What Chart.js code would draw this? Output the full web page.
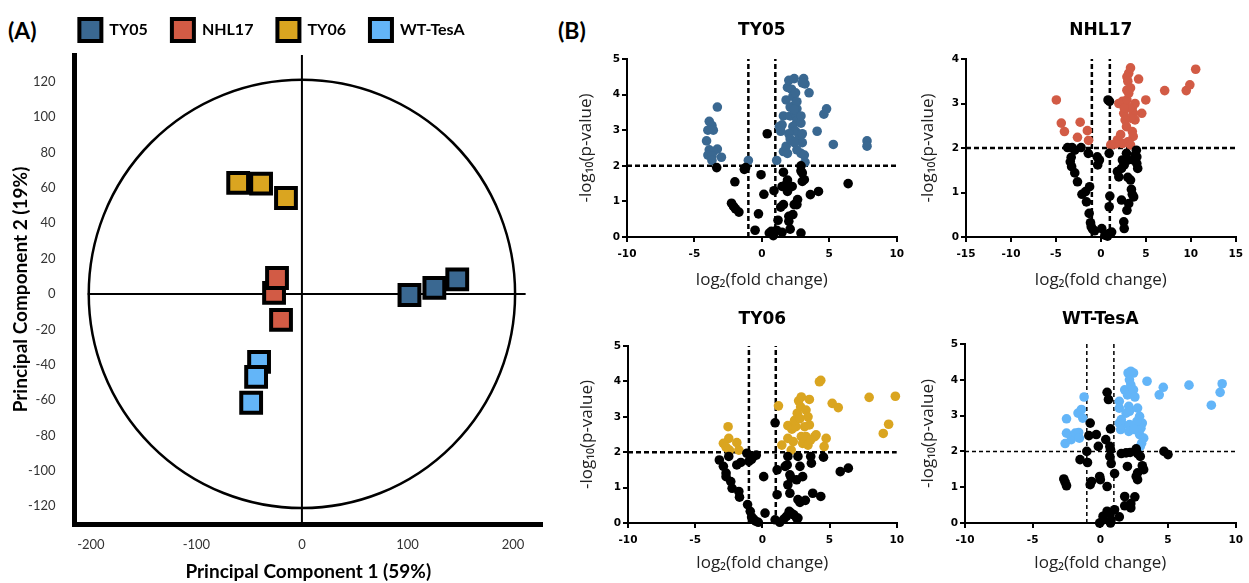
<!DOCTYPE html>
<html lang="en">
<head>
<meta charset="UTF-8">
<title>PCA and volcano plots</title>
<style>
  body { margin: 0; background: #fff; width: 1249px; height: 583px; position: relative; overflow: hidden; }
  .panel { position: absolute; }
  .tag { position: absolute; font: bold 23px Lato, sans-serif; line-height: 24px; color: #000; }
</style>
</head>
<body>
<div class="tag" style="left:8px; top:18px">(A)</div>
<div class="tag" style="left:558px; top:18px">(B)</div>

<div class="panel" style="left:0; top:0; width:560px; height:583px"><canvas id="pca"></canvas></div>
<div class="panel" style="left:560px; top:0; width:350px; height:300px"><canvas id="volTY05"></canvas></div>
<div class="panel" style="left:910px; top:0; width:339px; height:300px"><canvas id="volNHL17"></canvas></div>
<div class="panel" style="left:560px; top:300px; width:350px; height:283px"><canvas id="volTY06"></canvas></div>
<div class="panel" style="left:910px; top:300px; width:339px; height:283px"><canvas id="volWT"></canvas></div>

<script src="https://cdn.jsdelivr.net/npm/chart.js"></script>
<script>
// strains and colours
const strains = ['TY05', 'NHL17', 'TY06', 'WT-TesA'];
const strainColors = ['#3A6891', '#D25B45', '#DAA520', '#63B5F8'];

// PCA scores [PC1, PC2], three replicates per strain
const pcaTY05 = [[101.9, -0.6], [125.5, 3.4], [147.2, 8.2]];
const pcaNHL17 = [[-26.4, 0.6], [-23.6, 9.0], [-19.8, -14.7]];
const pcaTY06 = [[-60.4, 62.7], [-38.7, 62.3], [-15.1, 54.2]];
const pcaWT = [[-40.6, -38.4], [-43.4, -46.9], [-48.1, -61.5]];
const pcaXTicks = [-200, -100, 0, 100, 200];
const pcaYTicks = [-120, -100, -80, -60, -40, -20, 0, 20, 40, 60, 80, 100, 120];
const circleR = [202, 121];
const zeroLineX = [-203, 212];

// volcano plots: [log2 fold change, -log10 p]
const fcCutoff = 1;
const pCutoff = 2;

const ty05Sig = [[-3.3, 3.65], [-3.9, 3.25], [-3.7, 3.13], [-4.0, 3.0], [-3.6, 3.0], [-4.1, 2.7], [-3.3, 2.47],
  [-3.9, 2.45], [-3.6, 2.4], [-4.0, 2.3], [-3.7, 2.27], [-3.0, 2.24], [-3.7, 2.15], [-1.0, 2.15],
  [1.1, 2.15], [1.3, 3.1], [1.5, 3.15], [1.6, 2.4], [1.8, 2.55], [1.6, 3.4], [1.8, 3.85], [1.9, 4.2],
  [2.0, 4.4], [2.4, 4.45], [2.2, 4.15], [2.3, 3.95], [2.5, 4.05], [2.1, 3.65], [2.4, 3.7], [2.6, 3.6],
  [2.1, 3.4], [2.5, 3.45], [2.6, 3.25], [2.3, 3.1], [2.5, 2.97], [2.0, 2.9], [2.1, 2.75], [2.7, 2.75],
  [2.9, 3.2], [3.0, 2.65], [2.9, 2.35], [2.6, 2.45], [3.1, 4.45], [3.2, 4.3], [3.0, 4.33], [3.5, 4.05],
  [3.2, 2.1], [3.15, 2.3], [3.0, 2.9], [2.4, 2.65], [1.9, 2.35], [4.1, 2.97], [4.6, 3.45], [4.8, 3.6],
  [5.3, 2.6], [7.8, 2.7], [7.8, 2.55], [1.4, 2.97], [2.6, 3.8], [2.4, 3.58], [2.9, 3.4]];
const ty05Ns = [[-3.35, 1.95], [-1.3, 1.9], [-1.2, 1.95], [0.4, 2.9], [-0.06, 1.75], [-2.0, 1.55], [-2.25, 0.95],
  [-2.1, 0.86], [-1.95, 0.79], [-1.7, 0.7], [-0.25, 0.65], [-0.5, 0.19], [0.15, 1.2], [0.9, 1.3],
  [0.55, 0.11], [0.7, 0.16], [0.85, 0.04], [1.1, 0.19], [1.5, 0.13], [1.2, 0.47], [1.4, 0.84], [1.6, 0.91],
  [1.5, 1.42], [1.8, 1.47], [1.9, 1.28], [1.6, 1.82], [2.0, 0.58], [2.0, 0.44], [2.1, 0.22], [2.3, 0.63],
  [2.4, 0.91], [2.65, 1.05], [2.6, 0.91], [2.25, 1.42], [2.9, 2.0], [2.9, 1.86], [3.0, 1.56], [3.15, 1.61],
  [2.9, 0.11], [3.6, 1.19], [4.2, 1.28], [6.4, 1.5], [3.0, 1.8], [1.9, 1.6]];

const nhl17Sig = [[-4.95, 3.08], [-4.4, 2.56], [-4.05, 2.37], [-2.3, 2.58], [-2.6, 2.24], [-1.5, 2.39], [-1.37, 2.17],
  [1.84, 2.18], [2.2, 2.3], [2.0, 3.0], [2.4, 3.05], [2.55, 2.78], [2.9, 3.08], [3.1, 3.68], [2.9, 3.6],
  [3.3, 3.8], [3.0, 3.5], [3.3, 3.35], [3.1, 3.23], [3.5, 2.9], [3.65, 2.78], [3.8, 2.63], [3.3, 2.67],
  [2.85, 2.48], [3.5, 2.37], [3.6, 2.26], [3.0, 2.14], [2.4, 2.1], [1.6, 2.09], [1.1, 2.07], [3.3, 2.07],
  [4.2, 3.55], [4.55, 2.78], [5.0, 3.08], [7.1, 3.29], [9.5, 3.29], [9.9, 3.42], [10.55, 3.77], [2.7, 2.63],
  [3.8, 3.0], [2.9, 3.3], [3.2, 2.9], [2.6, 2.9]];
const nhl17Ns = [[0.8, 3.08], [0.96, 3.05], [-3.7, 2.01], [-3.2, 2.01], [-2.2, 2.01], [-2.9, 1.95], [-3.3, 1.79],
  [-3.4, 1.69], [-3.25, 1.58], [-2.9, 1.44], [-2.6, 1.24], [-2.1, 0.96], [-1.7, 1.02], [-1.25, 1.13],
  [-1.6, 0.79], [-1.3, 0.53], [-1.15, 0.32], [-1.07, 0.23], [-0.9, 0.17], [-0.7, 0.14], [0.1, 0.19],
  [0.45, 0.04], [0.75, 0.02], [0.9, 0.08], [1.2, 0.11], [0.93, 0.68], [1.0, 0.92], [0.93, 1.88], [-1.4, 1.88],
  [-0.4, 1.8], [-0.35, 1.62], [-0.16, 1.73], [1.84, 1.47], [2.0, 1.35], [2.3, 1.54], [2.6, 1.62], [2.4, 1.73],
  [2.85, 1.88], [2.3, 0.83], [2.55, 0.34], [2.6, 0.19], [2.9, 0.6], [3.1, 0.75], [3.3, 1.28], [3.4, 1.07],
  [3.5, 0.96], [3.65, 0.9], [3.65, 1.73], [3.8, 1.84], [3.95, 1.95], [4.0, 1.8], [4.1, 1.54], [4.0, 1.65],
  [3.0, 1.73], [3.0, 1.34]];

const ty06Sig = [[-2.55, 2.72], [-2.5, 2.39], [-2.9, 2.25], [-2.7, 2.14], [-2.45, 2.06], [-1.9, 2.27], [-1.75, 2.06],
  [1.2, 3.31], [1.45, 2.2], [1.9, 2.75], [2.2, 2.65], [1.9, 2.39], [2.3, 2.3], [2.15, 2.06], [2.5, 2.72],
  [2.4, 2.9], [2.6, 3.1], [2.7, 3.45], [2.85, 3.28], [2.8, 2.95], [2.9, 2.44], [3.0, 2.25], [3.15, 2.72],
  [3.25, 3.19], [3.4, 3.0], [3.5, 3.49], [3.5, 2.77], [3.25, 2.44], [3.4, 2.2], [3.9, 2.44], [4.0, 2.49],
  [4.25, 3.99], [4.35, 4.03], [4.75, 2.39], [4.6, 2.16], [5.2, 3.38], [5.65, 3.26], [7.95, 3.55], [9.9, 3.58],
  [9.4, 2.79], [9.0, 2.53], [2.9, 3.56], [3.6, 2.35]];
const ty06Ns = [[0.95, 2.83], [-3.2, 1.78], [-2.9, 1.6], [-2.7, 1.41], [-2.7, 1.31], [-2.35, 1.17], [-2.25, 0.98],
  [-2.5, 1.88], [-1.9, 1.64], [-1.6, 1.71], [-1.75, 0.89], [-1.7, 0.73], [-1.15, 1.97], [-1.0, 1.74],
  [-0.8, 1.8], [-0.65, 1.88], [-0.45, 1.92], [-1.1, 0.52], [-0.9, 0.33], [-0.8, 0.17], [-0.65, 0.11],
  [-0.5, 0.05], [-0.3, 0.02], [0.2, 0.28], [0.1, 1.31], [0.95, 0.09], [1.1, 0.8], [1.1, 1.5], [1.3, 0.02],
  [1.6, 0.11], [1.8, 0.19], [2.0, 0.33], [2.15, 0.28], [2.35, 0.23], [2.55, 0.14], [2.65, 0.14], [1.9, 1.88],
  [1.85, 1.64], [1.7, 1.6], [2.05, 1.36], [2.15, 1.27], [1.9, 1.08], [2.05, 0.84], [2.55, 1.22], [2.8, 1.6],
  [3.0, 1.31], [2.65, 0.66], [2.8, 0.58], [3.2, 0.64], [3.6, 1.88], [3.65, 1.69], [3.75, 0.84], [4.35, 0.75],
  [4.55, 1.86], [5.8, 1.45], [6.4, 1.55], [2.65, 1.88]];

const wtSig = [[-2.5, 2.91], [-2.5, 2.51], [-2.6, 2.22], [-2.15, 2.33], [-1.85, 2.51], [-1.6, 2.53], [-1.55, 2.37],
  [-1.65, 3.07], [-1.4, 3.17], [-1.3, 2.93], [-1.2, 3.52], [1.4, 3.4], [1.4, 3.21], [1.55, 2.89], [1.4, 2.79],
  [1.65, 2.75], [1.5, 2.61], [1.8, 3.72], [2.0, 3.58], [2.1, 3.26], [2.15, 3.12], [1.9, 3.07], [2.05, 4.19],
  [2.45, 4.19], [2.15, 4.0], [2.25, 3.86], [2.45, 3.72], [2.55, 3.52], [2.15, 2.75], [2.1, 2.56], [2.75, 3.21],
  [2.9, 2.98], [3.1, 2.79], [3.0, 2.65], [2.9, 2.47], [3.2, 2.37], [3.05, 2.23], [2.95, 2.14], [2.25, 4.24],
  [3.45, 3.96], [4.65, 3.79], [4.35, 3.58], [6.55, 3.85], [8.2, 3.29], [8.85, 3.65], [9.0, 3.89], [2.7, 2.84],
  [2.5, 2.61]];
const wtNs = [[0.5, 3.65], [0.6, 3.45], [-0.75, 2.79], [-0.85, 2.44], [-0.3, 2.47], [-0.15, 2.14], [0.4, 2.33],
  [0.75, 2.63], [0.7, 2.14], [0.75, 2.05], [0.7, 1.86], [-1.0, 2.0], [-1.5, 1.77], [-0.95, 1.69], [0.8, 1.66],
  [1.05, 1.38], [1.55, 1.94], [1.9, 1.96], [2.2, 1.97], [2.65, 2.07], [2.75, 1.94], [2.95, 1.86], [2.0, 1.58],
  [3.1, 1.6], [3.2, 1.49], [2.75, 1.4], [2.65, 1.3], [2.75, 1.21], [4.7, 2.0], [5.0, 1.91], [-2.7, 1.23],
  [-2.6, 1.14], [-2.5, 1.04], [-0.65, 1.16], [-0.75, 1.07], [-0.05, 1.3], [0.0, 1.21], [0.5, 1.02], [1.8, 0.74],
  [1.8, 0.48], [2.25, 0.54], [2.55, 0.73], [2.25, 0.42], [0.2, 0.19], [-0.05, 0.0], [0.2, 0.09], [0.5, 0.33],
  [0.7, 0.26], [0.8, 0.09], [1.05, 0.37], [1.4, 0.17], [0.75, 0.0]];

const xTicks10 = [-10, -5, 0, 5, 10];
const xTicks15 = [-15, -10, -5, 0, 5, 10, 15];
const yTicks5 = [0, 1, 2, 3, 4, 5];
const yTicks4 = [0, 1, 2, 3, 4];

const toPoints = arr => arr.map(([x, y]) => ({ x, y }));
const fixedTicks = values => scale => { scale.ticks = values.map(v => ({ value: v })); };

// zero axes and the unit circle behind the PCA scores
const pcaGuides = {
  id: 'pcaGuides',
  beforeDatasetsDraw(chart) {
    const { ctx, chartArea: a, scales: { x, y } } = chart;
    const cx = x.getPixelForValue(0);
    const cy = y.getPixelForValue(0);
    ctx.save();
    ctx.strokeStyle = '#000';
    ctx.lineWidth = 2;
    ctx.beginPath();
    ctx.moveTo(cx, a.top);
    ctx.lineTo(cx, a.bottom);
    ctx.moveTo(x.getPixelForValue(zeroLineX[0]), cy);
    ctx.lineTo(x.getPixelForValue(zeroLineX[1]), cy);
    ctx.stroke();
    ctx.lineWidth = 2.5;
    ctx.beginPath();
    ctx.ellipse(cx, cy, x.getPixelForValue(circleR[0]) - cx, cy - y.getPixelForValue(circleR[1]), 0, 0, Math.PI * 2);
    ctx.stroke();
    ctx.restore();
  }
};

// pull the legend up into the header row
const legendRow = {
  id: 'legendRow',
  afterLayout(chart) {
    const lg = chart.legend;
    lg.top = 19 - lg.options.labels.padding;
  }
};

const pcaSets = [pcaTY05, pcaNHL17, pcaTY06, pcaWT];

new Chart(document.getElementById('pca'), {
  type: 'scatter',
  data: {
    datasets: strains.map((name, i) => ({
      label: name,
      data: toPoints(pcaSets[i]),
      backgroundColor: strainColors[i],
      borderColor: '#000',
      borderWidth: 4,
      pointStyle: 'rect',
      pointRadius: 14,
      clip: false
    }))
  },
  options: {
    responsive: true,
    maintainAspectRatio: false,
    animation: false,
    events: [],
    layout: { padding: { left: 0, right: 16, top: 0, bottom: 0 } },
    plugins: {
      tooltip: { enabled: false },
      legend: {
        position: 'top',
        maxHeight: 55,
        labels: {
          boxWidth: 22,
          boxHeight: 22,
          padding: 24,
          color: '#000',
          font: { family: 'Lato', weight: 'bold', size: 16 }
        }
      }
    },
    scales: {
      x: {
        type: 'linear',
        min: -215.5,
        max: 227.5,
        afterBuildTicks: fixedTicks(pcaXTicks),
        afterFit: s => { s.height = 59; },
        grid: { display: false, drawTicks: false },
        border: { color: '#000', width: 5 },
        ticks: { color: '#333', padding: 13, font: { family: 'Lato', size: 13 } },
        title: {
          display: true,
          text: 'Principal Component 1 (59%)',
          color: '#000',
          font: { family: 'Lato', weight: 'bold', size: 19 },
          padding: { top: 0, bottom: 0 }
        }
      },
      y: {
        type: 'linear',
        min: -130,
        max: 135,
        afterBuildTicks: fixedTicks(pcaYTicks),
        afterFit: s => { s.width = 74.5; },
        grid: { display: false, drawTicks: false },
        border: { color: '#000', width: 5 },
        ticks: { color: '#333', padding: 19, font: { family: 'Lato', size: 13 } },
        title: {
          display: true,
          text: 'Principal Component 2 (19%)',
          color: '#000',
          font: { family: 'Lato', weight: 'bold', size: 19 },
          padding: { top: 9, bottom: 0 }
        }
      }
    }
  },
  plugins: [pcaGuides, legendRow]
});

// dashed significance thresholds
const cutoffLines = {
  id: 'cutoffs',
  defaults: { width: 2.5, dash: [5, 3] },
  beforeDatasetsDraw(chart, args, opts) {
    const { ctx, chartArea: a, scales: { x, y } } = chart;
    ctx.save();
    ctx.strokeStyle = '#000';
    ctx.lineWidth = opts.width;
    ctx.setLineDash(opts.dash);
    ctx.beginPath();
    const yp = y.getPixelForValue(pCutoff);
    ctx.moveTo(a.left, yp);
    ctx.lineTo(a.right, yp);
    [-fcCutoff, fcCutoff].forEach(v => {
      const xp = x.getPixelForValue(v);
      ctx.moveTo(xp, a.bottom);
      ctx.lineTo(xp, a.top);
    });
    ctx.stroke();
    ctx.restore();
  }
};

const tickFont = { family: 'DejaVu Sans', weight: 'bold', size: 10.5 };
const axisFont = { family: "'Open Sans', 'DejaVu Sans'", size: 17 };

function volcano(id, name, color, sig, ns, xTicks, yTicks, box) {
  return new Chart(document.getElementById(id), {
    type: 'scatter',
    data: {
      datasets: [
        { data: toPoints(ns), backgroundColor: '#000', borderWidth: 0, pointRadius: 4.8, clip: false },
        { data: toPoints(sig), backgroundColor: color, borderWidth: 0, pointRadius: 4.8, clip: false }
      ]
    },
    options: {
      responsive: true,
      maintainAspectRatio: false,
      animation: false,
      events: [],
      layout: { padding: { left: 0, right: box.right, top: 0, bottom: 0 } },
      plugins: {
        legend: { display: false },
        tooltip: { enabled: false },
        title: {
          display: true,
          text: name,
          fullSize: false,
          color: '#000',
          font: { family: 'DejaVu Sans', weight: 'bold', size: 17 },
          padding: { top: box.titleTop, bottom: box.titleBottom }
        },
        cutoffs: { width: box.dashWidth, dash: box.dash }
      },
      scales: {
        x: {
          type: 'linear',
          min: xTicks[0],
          max: xTicks[xTicks.length - 1],
          afterBuildTicks: fixedTicks(xTicks),
          afterFit: s => { s.height = box.xh; },
          grid: { drawOnChartArea: false, color: '#000', lineWidth: 2, tickLength: 5 },
          border: { color: '#000', width: 2 },
          ticks: { color: '#000', padding: 6, maxRotation: 0, font: tickFont },
          title: {
            display: true,
            text: 'log₂(fold change)',
            color: '#222',
            font: axisFont,
            padding: { top: 0, bottom: 9.8 }
          }
        },
        y: {
          type: 'linear',
          min: yTicks[0],
          max: yTicks[yTicks.length - 1],
          afterBuildTicks: fixedTicks(yTicks),
          afterFit: s => { s.width = box.yw; },
          grid: { drawOnChartArea: false, color: '#000', lineWidth: 2, tickLength: 5 },
          border: { color: '#000', width: 2 },
          ticks: { color: '#000', padding: 2, font: tickFont },
          title: {
            display: true,
            text: '-log₁₀(p-value)',
            color: '#222',
            font: axisFont,
            padding: { top: box.yTitle, bottom: 0 }
          }
        }
      }
    },
    plugins: [cutoffLines]
  });
}

volcano('volTY05', strains[0], strainColors[0], ty05Sig, ty05Ns, xTicks10, yTicks5,
  { right: 9, titleTop: 20, titleBottom: 18.6, xh: 63, yw: 67, yTitle: 15.8, dashWidth: 2.5, dash: [5, 3] });
volcano('volNHL17', strains[1], strainColors[1], nhl17Sig, nhl17Ns, xTicks15, yTicks4,
  { right: 8, titleTop: 20, titleBottom: 18.6, xh: 63, yw: 56, yTitle: 7.8, dashWidth: 2.5, dash: [5, 3] });
volcano('volTY06', strains[2], strainColors[2], ty06Sig, ty06Ns, xTicks10, yTicks5,
  { right: 10, titleTop: 9.8, titleBottom: 15.8, xh: 60, yw: 68, yTitle: 16.8, dashWidth: 2.5, dash: [5, 3] });
volcano('volWT', strains[3], strainColors[3], wtSig, wtNs, xTicks10, yTicks5,
  { right: 10, titleTop: 9.8, titleBottom: 13.8, xh: 60, yw: 55, yTitle: 7.8, dashWidth: 1.5, dash: [4, 3] });
</script>
</body>
</html>
